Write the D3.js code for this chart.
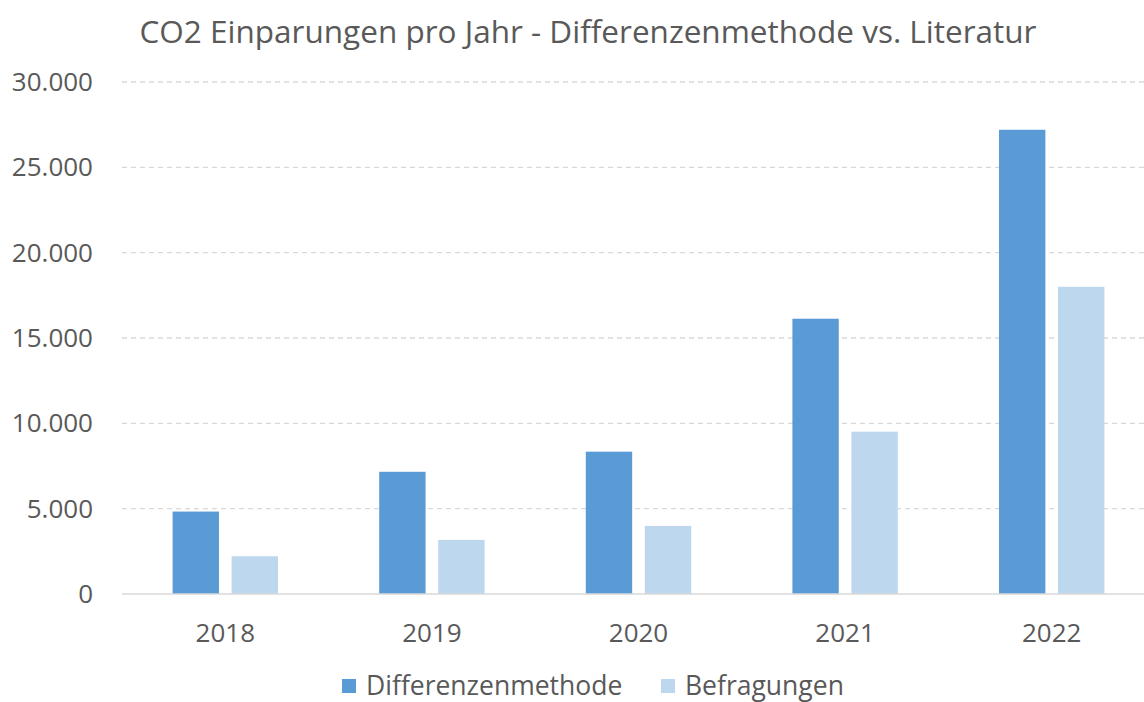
<!DOCTYPE html>
<html>
<head>
<meta charset="utf-8">
<script src="https://cdn.jsdelivr.net/npm/d3@7"></script>
<style>
  body { margin: 0; background: #fff; }
  svg { display: block; font-family: "Open Sans", sans-serif; }
</style>
</head>
<body>
<div id="chart"></div>
<script>
// data
const years = ["2018", "2019", "2020", "2021", "2022"];
const differenzenmethode = [4830, 7160, 8340, 16130, 27200];
const befragungen = [2210, 3170, 3990, 9510, 18000];
const seriesNames = ["Differenzenmethode", "Befragungen"];
const yTicks = [0, 5000, 10000, 15000, 20000, 25000, 30000];

const colors = ["#5b9bd5", "#bdd7ee"];
const textColor = "#595959";

const W = 1144, H = 702;
const svg = d3.select("#chart").append("svg")
    .attr("width", W).attr("height", H);

const margin = {top: 82, left: 122, bottom: 108},
    plotRight = 1155,
    plotBottom = H - margin.bottom;

const x0 = d3.scaleBand()
    .domain(years)
    .range([margin.left, plotRight])
    .paddingInner(0)
    .paddingOuter(0);

// two bars of ~46px with ~13px gap inside a ~207px band
const groupW = 105.4;
const x1 = d3.scaleBand()
    .domain(seriesNames)
    .range([0, groupW])
    .paddingInner(0.214);

const y = d3.scaleLinear()
    .domain([0, 30000])
    .range([plotBottom, margin.top]);

const fmt = d => d3.format(",")(d).replace(/,/g, ".");

// gridlines
svg.append("g")
  .selectAll("line")
  .data(yTicks.filter(d => d > 0))
  .enter().append("line")
    .attr("x1", margin.left).attr("x2", plotRight)
    .attr("y1", d => y(d)).attr("y2", d => y(d))
    .attr("stroke", "#d9d9d9")
    .attr("stroke-width", 1.3)
    .attr("stroke-dasharray", "5,4");

// y labels
svg.append("g")
  .selectAll("text")
  .data(yTicks)
  .enter().append("text")
    .attr("x", 93)
    .attr("y", d => y(d))
    .attr("dy", "0.35em")
    .attr("text-anchor", "end")
    .attr("font-size", 26)
    .attr("fill", textColor)
    .text(fmt);

// bars
const table = years.map((yr, i) => ({year: yr, values: [differenzenmethode[i], befragungen[i]]}));

const groups = svg.append("g")
  .selectAll("g")
  .data(table)
  .enter().append("g")
    .attr("transform", d => "translate(" + (x0(d.year) + (x0.bandwidth() - groupW) / 2) + ",0)");

groups.selectAll("rect")
  .data(d => d.values.map((v, j) => ({key: seriesNames[j], value: v, idx: j})))
  .enter().append("rect")
    .attr("x", d => x1(d.key))
    .attr("width", x1.bandwidth())
    .attr("y", d => y(d.value))
    .attr("height", d => y(0) - y(d.value))
    .attr("fill", d => colors[d.idx]);

// x axis line
svg.append("line")
    .attr("x1", margin.left).attr("x2", plotRight)
    .attr("y1", y(0)).attr("y2", y(0))
    .attr("stroke", "#d9d9d9")
    .attr("stroke-width", 1.5);

// x labels
svg.append("g")
  .selectAll("text")
  .data(years)
  .enter().append("text")
    .attr("x", d => x0(d) + x0.bandwidth() / 2)
    .attr("y", 633)
    .attr("dy", "0.35em")
    .attr("text-anchor", "middle")
    .attr("font-size", 26)
    .attr("fill", textColor)
    .text(d => d);

// title
svg.append("text")
    .attr("x", 588)
    .attr("y", 32)
    .attr("dy", "0.35em")
    .attr("text-anchor", "middle")
    .attr("font-size", 31.5)
    .attr("fill", textColor)
    .text("CO2 Einparungen pro Jahr - Differenzenmethode vs. Literatur");

// legend
const legendX = [342, 661];
const legend = svg.append("g")
  .selectAll("g")
  .data(seriesNames)
  .enter().append("g")
    .attr("transform", (d, i) => "translate(" + legendX[i] + ",686)");

legend.append("rect")
    .attr("x", 0).attr("y", -7)
    .attr("width", 14).attr("height", 14)
    .attr("fill", (d, i) => colors[i]);

legend.append("text")
    .attr("x", 24)
    .attr("dy", "0.35em")
    .attr("font-size", 26.5)
    .attr("fill", textColor)
    .text(d => d);
</script>
</body>
</html>
